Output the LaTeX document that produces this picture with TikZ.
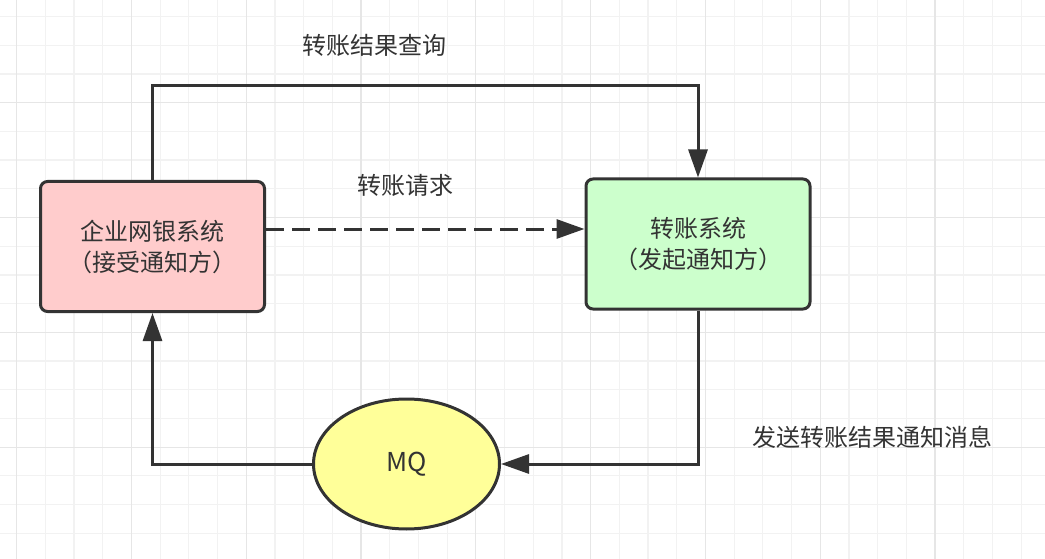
\documentclass[tikz,border=0pt]{standalone}
\usepackage{fontspec}
\setmainfont{Noto Sans CJK SC}
\usetikzlibrary{arrows.meta,shapes.geometric}
\definecolor{ink}{HTML}{333333}
\definecolor{gridminor}{HTML}{F2F2F2}
\definecolor{gridmajor}{HTML}{E6E6E6}
\definecolor{pinkfill}{HTML}{FFCCCC}
\definecolor{greenfill}{HTML}{CCFFCC}
\definecolor{yellowfill}{HTML}{FFFF99}
\tikzset{
  sysbox/.style={draw=ink, line width=3pt, rounded corners=7pt, minimum width=224pt, minimum height=130pt, inner sep=0pt, align=center, text=ink, font=\fontsize{24}{31}\selectfont},
  mqnode/.style={ellipse, draw=ink, line width=3pt, fill=yellowfill, minimum width=186pt, minimum height=130pt, inner sep=0pt, text=ink, font=\fontsize{26}{30}\selectfont},
  lbl/.style={text=ink, font=\fontsize{24}{29}\selectfont, inner sep=0pt},
  conn/.style={draw=ink, line width=3pt, -{Triangle[length=28pt,width=19pt]}},
  dconn/.style={conn, dash pattern=on 18pt off 8pt},
}
\begin{document}
\begin{tikzpicture}[x=1pt,y=-1pt]
\useasboundingbox (0,0) rectangle (1045,559);
\fill[white] (0,0) rectangle (1045,559);
% grid
\foreach \i in {0,...,35} {
  \pgfmathsetmacro{\gx}{16.6+28.7*\i}
  \draw[gridminor, line width=1.2pt] (\gx,0) -- (\gx,559);
}
\foreach \i in {0,...,18} {
  \pgfmathsetmacro{\gy}{16.6+28.7*\i}
  \draw[gridminor, line width=1.2pt] (0,\gy) -- (1045,\gy);
}
\foreach \i in {0,4,...,32} {
  \pgfmathsetmacro{\gx}{16.6+28.7*\i}
  \draw[gridmajor, line width=1.2pt] (\gx,0) -- (\gx,559);
}
\foreach \i in {3,7,11,15} {
  \pgfmathsetmacro{\gy}{16.6+28.7*\i}
  \draw[gridmajor, line width=1.2pt] (0,\gy) -- (1045,\gy);
}
% nodes
\node[sysbox, fill=pinkfill] (lb) at (152.5,246.5) {企业网银系统\\（接受通知方）};
\node[sysbox, fill=greenfill] (rb) at (698,244) {转账系统\\（发起通知方）};
\node[mqnode] (mq) at (406.5,464) {MQ};
% labels
\node[lbl] (l1) at (374,45) {转账结果查询};
\node[lbl] (l2) at (405,185) {转账请求};
\node[lbl] (l3) at (872,437) {发送转账结果通知消息};
% connectors
\coordinate (tl) at (152.5,86);
\coordinate (tr) at (698,86);
\coordinate (dy) at (0,229);
\draw[conn] (lb.north) -- (tl) -- (tr) -- (rb.north);
\draw[dconn] (lb.east |- dy) -- (rb.west |- dy);
\draw[conn] (rb.south) |- (mq.east);
\draw[conn] (mq.west) -| (lb.south);
\end{tikzpicture}
\end{document}
